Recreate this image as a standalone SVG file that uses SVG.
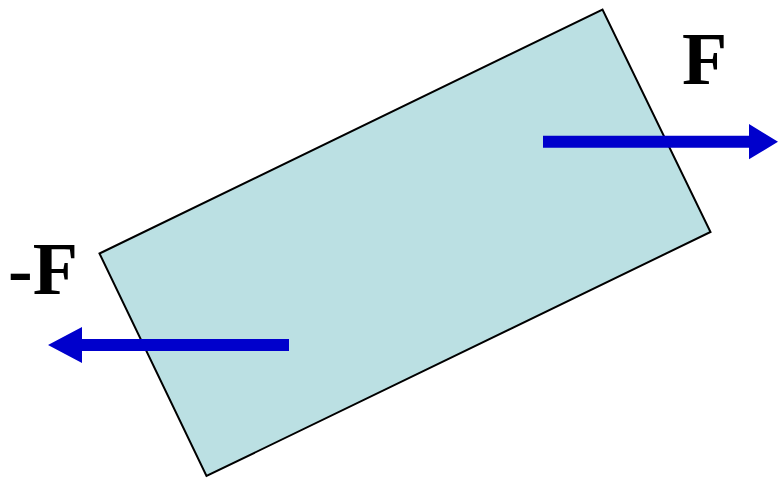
<svg xmlns="http://www.w3.org/2000/svg" width="778" height="478" viewBox="0 0 778 478">
<style>
.lbl{font-family:"Liberation Serif","Times New Roman",serif;font-weight:bold;font-size:74px;fill:#000}
.arr{fill:#0000CC}
</style>
<rect width="778" height="478" fill="#fff"/>
<g id="block">
<polygon points="99.5,253.5 602.5,9.5 710.5,232 206.5,476" fill="#BBE0E3" stroke="#000" stroke-width="2"/>
</g>
<g id="connectors">
<polygon class="arr" points="543,135.7 749,135.7 749,124 778,141.7 749,159.3 749,147.7 543,147.7"/>
<polygon class="arr" points="289,339 82,339 82,327 48,345 82,363 82,351 289,351"/>
</g>
<g id="label-F"><text class="lbl" x="682" y="84">F</text></g>
<g id="label-negF"><text class="lbl" x="8" y="294">-F</text></g>
</svg>
